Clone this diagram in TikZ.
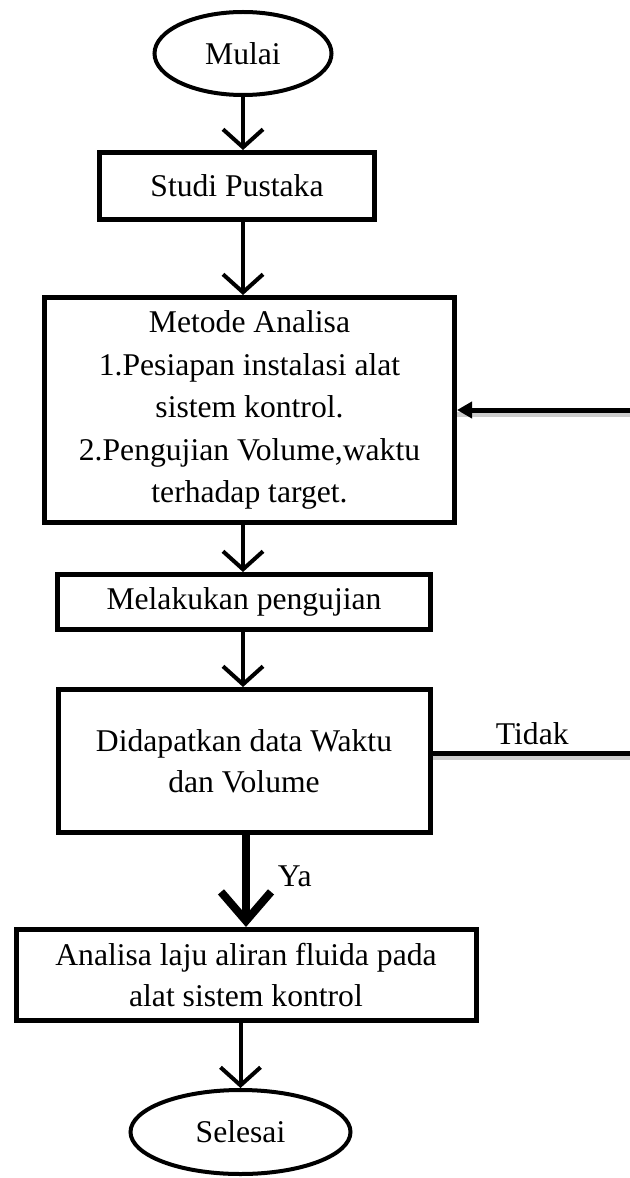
\documentclass[tikz,border=0pt]{standalone}
\usepackage{fontspec}
\setmainfont{Liberation Serif}
\usetikzlibrary{arrows.meta,positioning,shapes.geometric}

\begin{document}
\begin{tikzpicture}[
    every node/.style={font=\fontsize{18}{23.5}\selectfont},
    terminal/.style={draw, ellipse, line width=0.8mm, inner sep=0pt, align=center},
    box/.style={draw, rectangle, line width=1mm, inner sep=0pt, align=center},
    line/.style={draw, line width=0.8mm, -{Straight Barb[length=3.6mm, width=8mm]}},
    thickline/.style={draw, line width=1.6mm, -{Straight Barb[length=5.8mm, width=10mm]}},
    feedback/.style={draw, line width=1mm, -{Triangle[length=3mm, width=3.2mm]},
      preaction={draw=black!20, -, line width=1mm, transform canvas={yshift=-0.8mm}}}
  ]
    \useasboundingbox (0,0) rectangle (125.8mm,-235.6mm);
    % Nodes
    \node[terminal, minimum width=35.4mm, minimum height=16.6mm] (mulai) at (48.6mm,-10.7mm) {Mulai};
    \node[box, minimum width=55mm, minimum height=13.4mm, below=10.6mm of mulai, xshift=-1.2mm] (studi) {Studi Pustaka};
    \node[box, minimum width=82mm, minimum height=45mm, below=14.6mm of studi, xshift=2.5mm, font=\fontsize{18}{24.2}\selectfont] (metode)
      {Metode Analisa\\1.Pesiapan instalasi alat\\sistem kontrol.\\2.Pengujian Volume,waktu\\terhadap target.};
    \node[box, minimum width=74.6mm, minimum height=11mm, below=9.4mm of metode, xshift=-1.1mm] (melakukan) {Melakukan pengujian};
    \node[box, minimum width=74.4mm, minimum height=28.6mm, below=11mm of melakukan] (didapat) {Didapatkan data Waktu\\dan Volume};
    \node[box, minimum width=92mm, minimum height=18.2mm, below=18.4mm of didapat, xshift=0.4mm] (analisa) {Analisa laju aliran fluida pada\\alat sistem kontrol};
    \node[terminal, minimum width=44mm, minimum height=16.8mm, below=13mm of analisa, xshift=-1.1mm] (selesai) {Selesai};
    \coordinate (rim) at (126.4mm,0);

    % Edges
    \draw[line] (mulai.south) -- (mulai.south |- studi.north);
    \draw[line] (studi.south -| mulai) -- (metode.north -| mulai);
    \draw[line] (metode.south -| mulai) -- (melakukan.north -| mulai);
    \draw[line] (melakukan.south -| mulai) -- (didapat.north -| mulai);
    \draw[thickline] (didapat.south -| analisa) -- node[right=4.4mm, pos=0.45]{Ya} (analisa.north);
    \draw[line] (analisa.south -| selesai) -- (selesai.north);
    \draw[feedback] ([yshift=1.6mm]didapat.east) -- node[above]{Tidak} ([yshift=1.6mm]didapat.east -| rim)
      -- (rim |- metode.east) -- (metode.east);
\end{tikzpicture}
\end{document}
